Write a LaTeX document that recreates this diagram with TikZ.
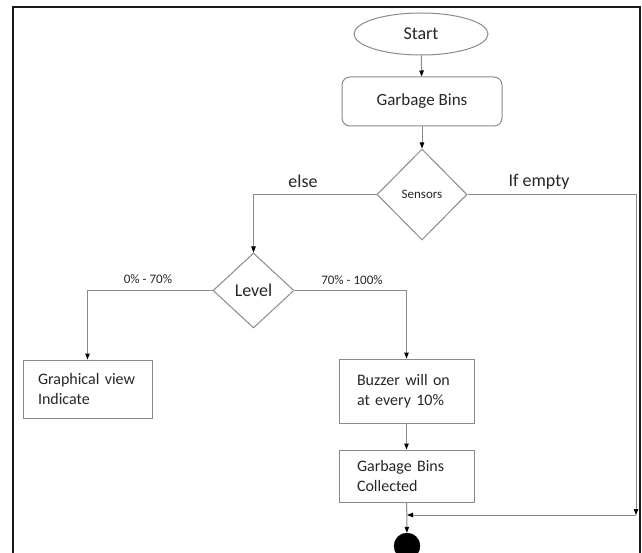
\documentclass[tikz,border=0pt]{standalone}
\usepackage{fontspec}
\setmainfont{Carlito}
\usetikzlibrary{shapes.geometric,arrows.meta}
\definecolor{lineg}{HTML}{8A8A8A}
\definecolor{txt}{HTML}{262626}
\begin{document}
\begin{tikzpicture}[x=1pt,y=-1pt,
  every node/.style={text=txt},
  shp/.style={draw=lineg,line width=1pt,inner sep=0pt},
  procbox/.style={shp,rectangle,align=left,text width=99pt,inner xsep=15pt,
     font=\fontsize{16}{20.5}\selectfont},
  decis/.style={shp,diamond,aspect=1},
  conn/.style={draw=lineg,line width=1pt,-{Triangle[length=6pt,width=4.5pt,color=black]}},
  lbl/.style={inner sep=0pt}]
\useasboundingbox (0,0) rectangle (642,553);
% frame
\draw[line width=2.5pt,black!90] (13,570) -- (13,7) -- (640,7) -- (640,570);
% nodes
\node[shp,ellipse,minimum width=134pt,minimum height=42pt,
      font=\fontsize{18}{21}\selectfont] (start) at (421,34) {Start};
\node[shp,rectangle,rounded corners=8pt,minimum width=160pt,minimum height=49pt,
      font=\fontsize{17}{20}\selectfont] (gb) at (422,101.5) {Garbage Bins};
\node[decis,minimum width=90pt,minimum height=91pt,
      font=\fontsize{13}{15}\selectfont] (sensors) at (422,194.5) {Sensors};
\node[decis,minimum width=81pt,minimum height=75pt,
      font=\fontsize{18}{21}\selectfont] (level) at (253.5,290.5) {Level};
\node[procbox,minimum width=129pt,minimum height=58pt] (graph) at (87.5,389)
      {Graphical view\\Indicate};
\node[procbox,minimum width=135pt,minimum height=64pt,inner xsep=18pt] (buzz) at (406.5,391)
      {Buzzer will on\\at every 10\%};
\node[procbox,minimum width=135pt,minimum height=52pt,inner xsep=18pt] (coll) at (406.5,476)
      {Garbage Bins\\Collected};
\node[circle,fill=black,draw=black,minimum size=26pt,inner sep=0pt] (endc) at (407,546) {};
\coordinate (c1) at (636,515);
\coordinate (c2) at (407,515);
% labels
\node[lbl,font=\fontsize{18}{21}\selectfont] (lelse) at (303,181) {else};
\node[lbl,font=\fontsize{18}{21}\selectfont] (lempty) at (539,182) {If empty};
\node[lbl,font=\fontsize{13}{15}\selectfont] (llow) at (148,279) {0\% - 70\%};
\node[lbl,font=\fontsize{13}{15}\selectfont] (lhigh) at (352,280) {70\% - 100\%};
% connectors
\draw[conn] (start) -- (gb);
\draw[conn] (gb) -- (sensors);
\draw[conn] (sensors.west) -| (level.north);
\draw[conn] (sensors.east) -| (c1);
\draw[conn] (c1) -- (c2);
\draw[conn] (level.west) -| (graph.north);
\draw[conn] (level.east) -| (buzz.north);
\draw[conn] (buzz) -- (coll);
\draw[conn] (coll) -- (endc);
\end{tikzpicture}
\end{document}
